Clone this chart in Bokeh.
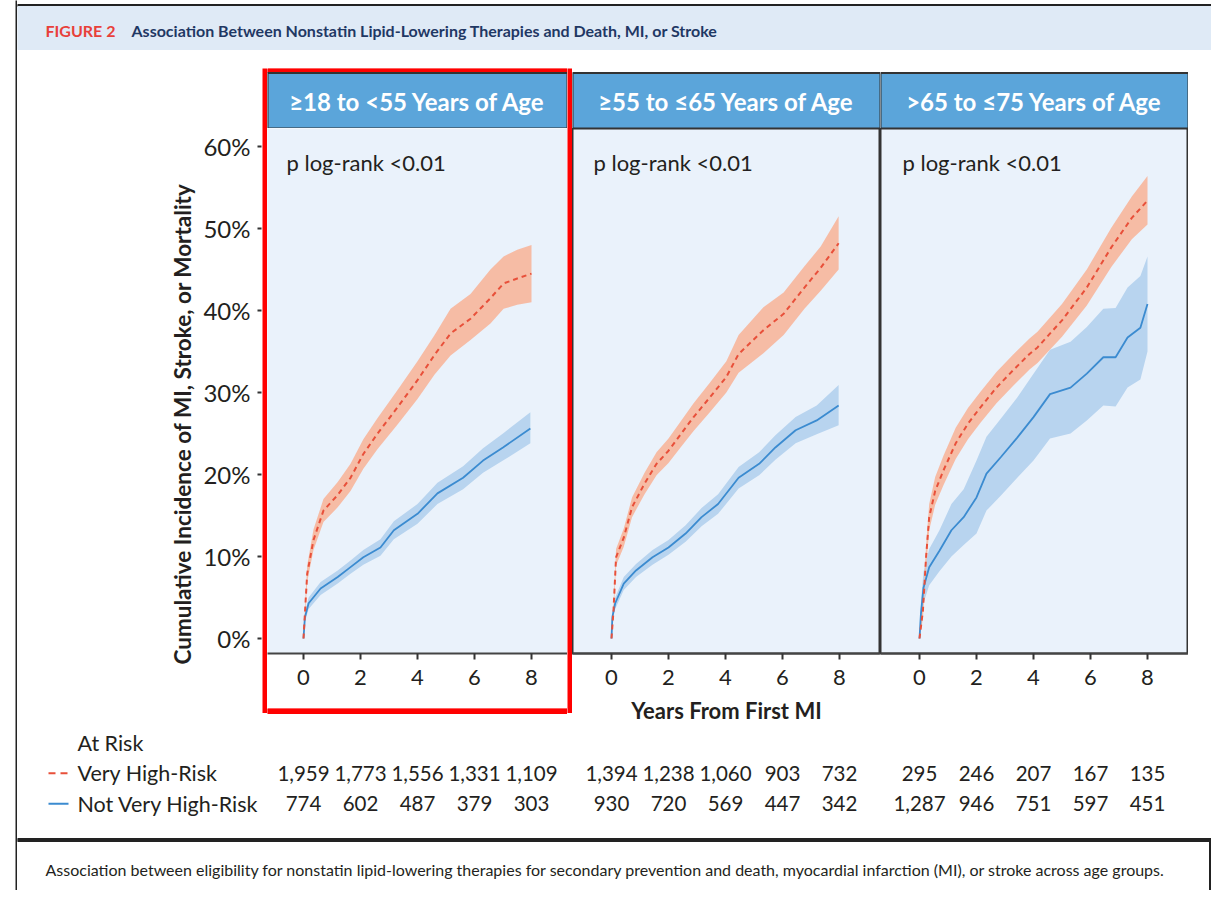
from bokeh.plotting import figure
from bokeh.layouts import row, column
from bokeh.models import Range1d, FixedTicker, PrintfTickFormatter, Label, Title
from bokeh.core.properties import value
from bokeh.embed import file_html
from bokeh.resources import INLINE
from bokeh.core.validation import silence
from bokeh.core.validation.warnings import MISSING_RENDERERS

silence(MISSING_RENDERERS, True)

# ---------------- data ----------------
FIG_LABEL = "FIGURE 2"
FIG_TITLE = "Association Between Nonstatin Lipid-Lowering Therapies and Death, MI, or Stroke"
CAPTION = ("Association between eligibility for nonstatin lipid-lowering therapies for secondary "
           "prevention and death, myocardial infarction (MI), or stroke across age groups.")
PANEL_TITLES = ["\u226518 to <55 Years of Age", "\u226555 to \u226465 Years of Age", ">65 to \u226475 Years of Age"]
P_TEXT = "p log-rank <0.01"
Y_LABEL = "Cumulative Incidence of MI, Stroke, or Mortality"
X_LABEL = "Years From First MI"
X_TICKS = [0, 2, 4, 6, 8]
Y_TICKS = [0, 10, 20, 30, 40, 50, 60]
RISK_TITLE = "At Risk"
GROUPS = ["Very High-Risk", "Not Very High-Risk"]
RISK_TIMES = [0, 2, 4, 6, 8]

# at-risk numbers per panel
risk_vhr = [[1959, 1773, 1556, 1331, 1109],
            [1394, 1238, 1060, 903, 732],
            [295, 246, 207, 167, 135]]
risk_nvhr = [[774, 602, 487, 379, 303],
             [930, 720, 569, 447, 342],
             [1287, 946, 751, 597, 451]]

# Panel 1 (>=18 to <55)
p1_vhr_t = [0, 0.07, 0.13, 0.35, 0.7, 1.2, 1.65, 2.1, 2.6, 3.3, 4.0, 4.6, 5.16, 5.86, 6.56, 7.02, 7.5, 8.0]
p1_vhr_est = [0, 4.3, 7.9, 12.0, 15.6, 17.5, 19.6, 22.5, 25.0, 28.2, 31.5, 34.6, 37.2, 39.0, 41.5, 43.3, 43.9, 44.5]
p1_vhr_lo = [0, 3.5, 6.9, 10.8, 14.2, 16.0, 18.0, 20.7, 23.1, 26.1, 29.2, 32.2, 34.5, 36.4, 38.4, 40.2, 40.7, 41.0]
p1_vhr_hi = [0, 5.2, 8.9, 13.3, 17.0, 19.1, 21.3, 24.3, 26.9, 30.3, 33.8, 37.0, 40.2, 42.0, 45.0, 46.6, 47.4, 48.0]

p1_nvhr_t = [0, 0.05, 0.18, 0.6, 1.2, 1.65, 2.1, 2.7, 3.17, 4.0, 4.7, 5.6, 6.3, 7.0, 7.96]
p1_nvhr_est = [0, 2.6, 4.3, 6.1, 7.5, 8.7, 9.9, 11.1, 13.2, 15.2, 17.7, 19.6, 21.7, 23.3, 25.6]
p1_nvhr_lo = [0, 2.0, 3.6, 5.3, 6.7, 7.9, 9.0, 10.1, 12.1, 14.0, 16.4, 18.2, 20.2, 21.7, 23.8]
p1_nvhr_hi = [0, 3.2, 5.0, 6.9, 8.3, 9.5, 10.8, 12.1, 14.3, 16.4, 19.0, 21.0, 23.2, 25.0, 27.6]

# Panel 2 (>=55 to <=65)
p2_vhr_t = [0, 0.07, 0.16, 0.43, 0.72, 1.16, 1.58, 2.0, 2.45, 2.88, 3.45, 4.03, 4.46, 5.33, 6.04, 6.77, 7.34, 7.97]
p2_vhr_est = [0, 3.4, 9.9, 12.3, 16.0, 18.9, 21.3, 22.9, 25.0, 27.0, 29.4, 31.9, 34.7, 37.6, 39.6, 42.8, 45.2, 48.2]
p2_vhr_lo = [0, 2.6, 8.9, 11.2, 14.8, 17.6, 19.9, 21.4, 23.4, 25.3, 27.6, 30.0, 32.4, 34.8, 37.0, 40.2, 42.4, 45.0]
p2_vhr_hi = [0, 4.2, 10.9, 13.4, 17.2, 20.2, 22.7, 24.4, 26.6, 28.7, 31.2, 33.8, 37.0, 40.4, 42.2, 45.4, 47.8, 51.5]

p2_nvhr_t = [0, 0.03, 0.13, 0.43, 0.86, 1.44, 2.0, 2.6, 3.16, 3.74, 4.46, 5.18, 5.75, 6.46, 7.2, 7.97]
p2_nvhr_est = [0, 2.6, 4.3, 6.7, 8.3, 9.9, 11.1, 12.8, 14.8, 16.4, 19.6, 21.3, 23.3, 25.4, 26.6, 28.4]
p2_nvhr_lo = [0, 2.0, 3.6, 5.9, 7.5, 9.0, 10.2, 11.8, 13.7, 15.2, 18.3, 19.9, 21.8, 23.8, 24.9, 26.0]
p2_nvhr_hi = [0, 3.2, 5.0, 7.5, 9.1, 10.8, 12.0, 13.8, 15.9, 17.6, 20.9, 22.7, 24.8, 27.0, 28.4, 30.9]

# Panel 3 (>65 to <=75)
p3_vhr_t = [0, 0.12, 0.23, 0.34, 0.55, 0.84, 1.27, 1.7, 2.14, 2.7, 3.28, 3.86, 4.14, 5.0, 5.87, 6.73, 7.45, 8.0]
p3_vhr_est = [0, 3.4, 9.9, 14.8, 18.0, 20.5, 23.8, 26.2, 28.2, 30.6, 32.7, 34.7, 35.5, 38.8, 42.8, 47.7, 51.3, 53.4]
p3_vhr_lo = [0, 2.4, 8.5, 13.2, 16.3, 18.7, 21.9, 24.3, 26.3, 28.7, 30.8, 32.8, 33.6, 36.8, 40.6, 45.3, 48.7, 50.5]
p3_vhr_hi = [0, 4.4, 11.3, 16.4, 19.7, 22.3, 25.7, 28.1, 30.1, 32.5, 34.6, 36.6, 37.4, 40.8, 45.0, 50.1, 53.9, 56.4]

p3_nvhr_t = [0, 0.05, 0.14, 0.34, 0.7, 1.12, 1.55, 2.0, 2.35, 2.85, 3.43, 4.0, 4.58, 5.3, 5.87, 6.45, 6.88, 7.3, 7.75, 8.0]
p3_nvhr_est = [0, 3.0, 6.2, 8.7, 10.7, 13.2, 14.8, 17.2, 20.1, 22.1, 24.5, 27.0, 29.8, 30.6, 32.3, 34.3, 34.3, 36.7, 37.9, 40.8]
p3_nvhr_lo = [0, 1.5, 4.3, 6.5, 8.2, 10.0, 11.4, 12.8, 15.6, 17.4, 19.6, 21.7, 24.4, 25.0, 26.6, 28.4, 28.3, 30.6, 31.6, 35.0]
p3_nvhr_hi = [0, 4.5, 8.1, 10.9, 13.2, 16.4, 18.2, 21.7, 24.6, 26.8, 29.4, 32.3, 35.2, 36.2, 38.0, 40.2, 40.3, 42.8, 44.2, 46.6]

series_vhr = [(p1_vhr_t, p1_vhr_est, p1_vhr_lo, p1_vhr_hi),
              (p2_vhr_t, p2_vhr_est, p2_vhr_lo, p2_vhr_hi),
              (p3_vhr_t, p3_vhr_est, p3_vhr_lo, p3_vhr_hi)]
series_nvhr = [(p1_nvhr_t, p1_nvhr_est, p1_nvhr_lo, p1_nvhr_hi),
               (p2_nvhr_t, p2_nvhr_est, p2_nvhr_lo, p2_nvhr_hi),
               (p3_nvhr_t, p3_nvhr_est, p3_nvhr_lo, p3_nvhr_hi)]

# ---------------- styles ----------------
FONT = "Lato"
TXT = "#231f20"
DARK = "#333333"
RED_LINE = "#e8503a"
RED_BAND = "#f7b8a0"
BLUE_LINE = "#3b8bd0"
BLUE_BAND = "#b8d4ef"
PANEL_BG = "#eaf2fb"
HEAD_BG = "#5ba5da"
BAND_BG = "#dfeaf6"
BOX_RED = "#ff0000"

# ---------------- geometry (reference pixels) ----------------
PX_PER_YEAR = 28.5
PX_PER_PCT = 8.2
Y0_PIX = 638
FRAME_TOP, FRAME_BOT = 128, 653
UPPER_TOP, UPPER_BOT = 68, 733
LEFT_SPLIT = 718
TABLE_BOT = 830
P_LEFT = [267, 572, 880]
P_RIGHT = [567, 880, 1188]
ZERO_PIX = [303, 611, 919]
ROW0_PIX, ROW_PX = 742.3, 30.5

YR = Range1d((Y0_PIX - FRAME_BOT) / PX_PER_PCT, (Y0_PIX - FRAME_TOP) / PX_PER_PCT)


def common(w, h):
    return dict(width=w, height=h, output_backend="svg", toolbar_location=None, tools="",
                title=None, frame_align=False)


def blank(w, h, color="white"):
    return figure(**common(w, h), x_range=Range1d(0, 1), y_range=Range1d(0, 1),
                  x_axis_type=None, y_axis_type=None, min_border=0,
                  background_fill_color=color, border_fill_color=color, outline_line_color=None)


def pix_fig(x0, x1, y0, y1, color="white"):
    return figure(**common(x1 - x0, y1 - y0), x_range=Range1d(x0, x1), y_range=Range1d(y1, y0),
                  x_axis_type=None, y_axis_type=None, min_border=0,
                  background_fill_color=color, border_fill_color=color, outline_line_color=None)


def row_range(top, bottom):
    return Range1d((bottom - ROW0_PIX) / ROW_PX, (top - ROW0_PIX) / ROW_PX)


def header_fig(k, boxed):
    x0, x1 = P_LEFT[k], P_RIGHT[k]
    f = pix_fig(x0, x1, UPPER_TOP, FRAME_TOP)
    if boxed:
        f.quad(left=[x0], right=[x1], top=[68], bottom=[72], color=BOX_RED)
    f.quad(left=[x0], right=[x1], top=[72.5], bottom=[128], fill_color=HEAD_BG,
           line_color=DARK, line_width=2)
    f.text(x=[(x0 + x1) / 2], y=[101], text=[PANEL_TITLES[k]], text_align="center",
           text_baseline="middle", text_color="white", text_font=value(FONT),
           text_font_style="bold", text_font_size="24px")
    return f


def panel_fig(k, bottom, xr, outline=True, xlabel=None, ptext_x=20):
    w = P_RIGHT[k] - P_LEFT[k]
    mb = bottom - FRAME_BOT
    f = figure(**common(w, bottom - FRAME_TOP), x_range=xr, y_range=YR, y_axis_type=None,
               min_border_left=0, min_border_right=0, min_border_top=0, min_border_bottom=mb,
               background_fill_color=PANEL_BG, border_fill_color="white",
               outline_line_color=DARK if outline else None, outline_line_width=2)
    f.xgrid.visible = False
    ax = f.xaxis[0]
    ax.ticker = FixedTicker(ticks=X_TICKS)
    ax.minor_tick_line_color = None
    ax.major_tick_in = 0
    ax.major_tick_out = 6
    ax.major_tick_line_color = DARK
    ax.major_tick_line_width = 2
    ax.axis_line_color = "#444444"
    ax.axis_line_width = 2
    ax.major_label_text_font = FONT
    ax.major_label_text_font_size = "22px"
    ax.major_label_text_color = TXT
    ax.major_label_standoff = 10
    if xlabel:
        ax.axis_label = xlabel
        ax.axis_label_text_font = FONT
        ax.axis_label_text_font_style = "bold"
        ax.axis_label_text_font_size = "22px"
        ax.axis_label_text_color = TXT
        ax.axis_label_standoff = 9
    t, e, lo, hi = series_nvhr[k]
    f.varea(x=t, y1=lo, y2=hi, fill_color=BLUE_BAND, fill_alpha=1.0)
    t2, e2, lo2, hi2 = series_vhr[k]
    f.varea(x=t2, y1=lo2, y2=hi2, fill_color=RED_BAND, fill_alpha=0.95)
    f.line(x=t, y=e, line_color=BLUE_LINE, line_width=1.8)
    f.line(x=t2, y=e2, line_color=RED_LINE, line_width=2, line_dash="5 4")
    f.add_layout(Label(x=ptext_x, x_units="screen", y=(Y0_PIX - 162) / PX_PER_PCT, text=P_TEXT,
                       text_font=FONT, text_font_size="22px", text_color=TXT,
                       text_baseline="middle", text_align="left"))
    return f


def table_fig(k, top, bottom, xr):
    w = P_RIGHT[k] - P_LEFT[k]
    f = figure(**common(w, bottom - top), x_range=xr, y_range=row_range(top, bottom),
               x_axis_type=None, y_axis_type=None, min_border=0,
               background_fill_color="white", border_fill_color="white", outline_line_color=None)
    for r, vals in ((1, risk_vhr[k]), (2, risk_nvhr[k])):
        f.text(x=RISK_TIMES, y=[r] * len(RISK_TIMES), text=[f"{v:,}" for v in vals],
               text_align="center", text_baseline="middle", text_color=TXT,
               text_font=value(FONT), text_font_size="20.5px")
    return f


xrs = [Range1d((P_LEFT[k] - ZERO_PIX[k]) / PX_PER_YEAR, (P_RIGHT[k] - ZERO_PIX[k]) / PX_PER_YEAR)
       for k in range(3)]

# ---- top header ----
top = pix_fig(17, 1211, 0, UPPER_TOP)
top.quad(left=[17], right=[1211], top=[4], bottom=[6], color="#222222")
top.quad(left=[17], right=[1211], top=[6], bottom=[49], color=BAND_BG)
top.text(x=[45], y=[30], text=[FIG_LABEL], text_font=value(FONT), text_font_style="bold",
         text_font_size="16px", text_color="#e8403a", text_baseline="middle")
top.text(x=[131], y=[30], text=[FIG_TITLE], text_font=value(FONT), text_font_style="bold",
         text_font_size="16px", text_color="#1f3864", text_baseline="middle")

# ---- y axis (left) ----
yax = figure(**common(245, LEFT_SPLIT - UPPER_TOP), x_range=Range1d(0, 1), y_range=YR,
             x_axis_type=None, min_border_left=244, min_border_right=0,
             min_border_top=FRAME_TOP - UPPER_TOP, min_border_bottom=LEFT_SPLIT - FRAME_BOT,
             background_fill_color="white", border_fill_color="white", outline_line_color=None)
yax.ygrid.visible = False
ya = yax.yaxis[0]
ya.ticker = FixedTicker(ticks=Y_TICKS)
ya.formatter = PrintfTickFormatter(format="%d%%")
ya.minor_tick_line_color = None
ya.axis_line_color = None
ya.major_tick_in = 0
ya.major_tick_out = 4
ya.major_tick_line_color = DARK
ya.major_tick_line_width = 2
ya.major_label_text_font = FONT
ya.major_label_text_font_size = "24px"
ya.major_label_text_color = TXT
ya.major_label_standoff = 7
yax.add_layout(Title(text=Y_LABEL, align="left", offset=FRAME_BOT - 664, standoff=9,
                     text_font=FONT, text_font_style="bold", text_font_size="22.5px",
                     text_color=TXT), "left")

# ---- legend / row labels (lower-left) ----
leg = pix_fig(17, 262, LEFT_SPLIT, TABLE_BOT)
leg.y_range = row_range(LEFT_SPLIT, TABLE_BOT)
leg.text(x=[77], y=[0], text=[RISK_TITLE], text_font=value(FONT), text_font_size="21.5px",
         text_color=TXT, text_baseline="middle")
leg.text(x=[77, 77], y=[1, 2], text=GROUPS, text_font=value(FONT), text_font_size="21.5px",
         text_color=TXT, text_baseline="middle")
leg.segment(x0=[48], y0=[1], x1=[68], y1=[1], line_color=RED_LINE, line_width=2, line_dash="7 5")
leg.segment(x0=[48], y0=[2], x1=[68], y1=[2], line_color=BLUE_LINE, line_width=2)

left_col = column(yax, leg)

# ---- panels + tables ----
H_MID = TABLE_BOT - UPPER_TOP
red_l = column(blank(5, 645, BOX_RED), blank(5, H_MID - 645))
red_r = column(blank(5, 645, BOX_RED), blank(5, H_MID - 645))
bottom1 = pix_fig(P_LEFT[0], P_RIGHT[0], 708, UPPER_BOT)
bottom1.quad(left=[P_LEFT[0]], right=[P_RIGHT[0]], top=[708], bottom=[713], color=BOX_RED)
col1 = column(header_fig(0, True),
              panel_fig(0, 708, xrs[0], outline=False, ptext_x=19),
              bottom1,
              table_fig(0, UPPER_BOT, TABLE_BOT, xrs[0]))
col2 = column(header_fig(1, False),
              panel_fig(1, UPPER_BOT, xrs[1], xlabel=X_LABEL, ptext_x=21),
              table_fig(1, UPPER_BOT, TABLE_BOT, xrs[1]))
col3 = column(header_fig(2, False),
              panel_fig(2, UPPER_BOT, xrs[2], ptext_x=22),
              table_fig(2, UPPER_BOT, TABLE_BOT, xrs[2]))
mid = row(left_col, red_l, col1, red_r, col2, col3, blank(23, H_MID))

# ---- caption ----
cap = pix_fig(17, 1211, TABLE_BOT, 890)
cap.quad(left=[17], right=[1211], top=[838], bottom=[841], color="#222222")
cap.quad(left=[1209], right=[1211], top=[838], bottom=[890], color="#222222")
cap.text(x=[45], y=[869], text=[CAPTION], text_font=value(FONT), text_font_size="16px",
         text_color=TXT, text_baseline="middle")

main = column(top, mid, cap)
layout = row(blank(15, 890), blank(2, 890, "#222222"), main)

open("out.html", "w").write(file_html(layout, INLINE))
